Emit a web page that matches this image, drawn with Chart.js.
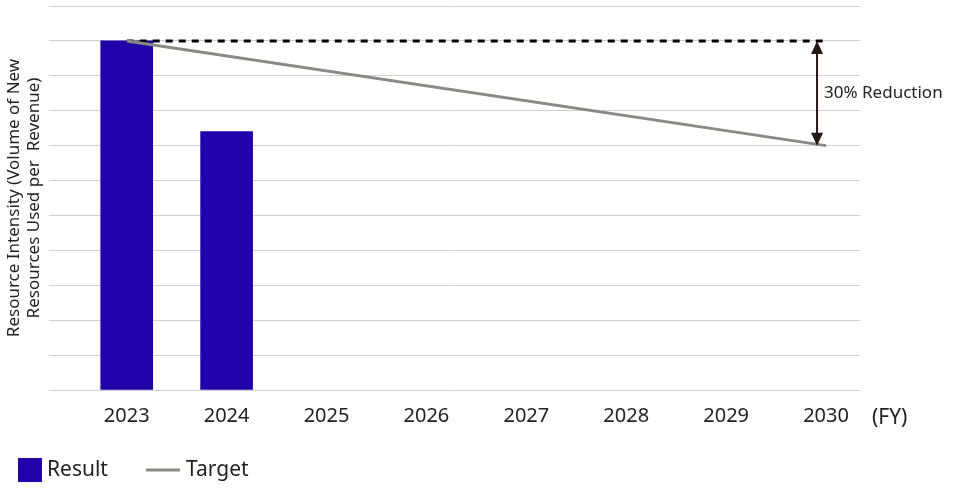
<!DOCTYPE html>
<html><head><meta charset="utf-8">
<script src="https://cdn.jsdelivr.net/npm/chart.js@4"></script>
<style>body{margin:0;background:#fff}#wrap{width:960px;height:489px}</style>
</head><body><div id="wrap"><canvas id="c"></canvas></div>
<script>
const YEARS = [2023, 2024, 2025, 2026, 2027, 2028, 2029, 2030];
const RESULT = [100, 74];
const TARGET_START = 100;
const TARGET_END = 70;
const REDUCTION_LABEL = '30% Reduction';
const FONT = "'Noto Sans', sans-serif";

const annotate = {
  id: 'annotate',
  afterDatasetsDraw(chart) {
    const { ctx, scales: { x, y } } = chart;
    const ax = x.getPixelForValue(2029.91), y1 = y.getPixelForValue(TARGET_START), y2 = y.getPixelForValue(TARGET_END);
    ctx.save();
    ctx.strokeStyle = '#231815'; ctx.fillStyle = '#231815'; ctx.lineWidth = 2;
    ctx.beginPath(); ctx.moveTo(ax, y1 + 10); ctx.lineTo(ax, y2 - 10); ctx.stroke();
    ctx.beginPath(); ctx.moveTo(ax, y1); ctx.lineTo(ax - 6, y1 + 13); ctx.lineTo(ax + 6, y1 + 13); ctx.fill();
    ctx.beginPath(); ctx.moveTo(ax, y2); ctx.lineTo(ax - 6, y2 - 13); ctx.lineTo(ax + 6, y2 - 13); ctx.fill();
    ctx.font = '17px ' + FONT; ctx.textBaseline = 'middle'; ctx.fillStyle = '#222';
    ctx.fillText(REDUCTION_LABEL, ax + 7, (y1 + y2) / 2);
    ctx.font = '21px ' + FONT;
    ctx.fillText('(FY)', y.right ? x.right + 12 : 0, y.bottom + 28);
    // legend
    const ly = 470;
    ctx.fillStyle = '#2200aa'; ctx.fillRect(18, ly - 12, 24, 24);
    ctx.fillStyle = '#222'; ctx.fillText('Result', 47, ly);
    ctx.strokeStyle = '#8a8a84'; ctx.lineWidth = 3;
    ctx.beginPath(); ctx.moveTo(146, ly); ctx.lineTo(180, ly); ctx.stroke();
    ctx.fillText('Target', 186, ly);
    ctx.restore();
  }
};

new Chart(document.getElementById('c'), {
  type: 'bar',
  data: {
    datasets: [
      { type: 'line', label: 'Level', data: [{ x: YEARS[0], y: TARGET_START }, { x: YEARS[YEARS.length - 1], y: TARGET_START }],
        borderColor: '#000', borderWidth: 3, borderDash: [7, 6], pointRadius: 0, order: 1 },
      { type: 'line', label: 'Target', data: [{ x: YEARS[0], y: TARGET_START }, { x: YEARS[YEARS.length - 1], y: TARGET_END }],
        borderColor: '#8a8a84', borderWidth: 3, pointRadius: 0, order: 0 },
      { label: 'Result', data: RESULT.map((v, i) => ({ x: YEARS[i], y: v })), backgroundColor: '#2200aa', barThickness: 52, order: 2 }
    ]
  },
  options: {
    responsive: true, maintainAspectRatio: false, animation: false,
    layout: { padding: { top: 6, right: 100, bottom: 55, left: 0 } },
    plugins: { legend: { display: false }, tooltip: { enabled: false } },
    scales: {
      x: { type: 'linear', min: 2022.22, max: 2030.34, offset: false,
        afterBuildTicks: s => { s.ticks = YEARS.map(v => ({ value: v })); },
        grid: { display: false }, border: { display: false },
        ticks: { color: '#222', font: { family: FONT, size: 20 }, callback: v => String(v), padding: 6 } },
      y: { min: 0, max: 110, ticks: { display: false, stepSize: 10 },
        grid: { color: '#d0d0d0', drawTicks: false }, border: { display: false },
        title: { display: true, text: ['Resource Intensity (Volume of New', 'Resources Used per  Revenue)'],
          color: '#222', font: { family: FONT, size: 17 }, padding: 4 } }
    }
  },
  plugins: [annotate]
});
</script></body></html>
